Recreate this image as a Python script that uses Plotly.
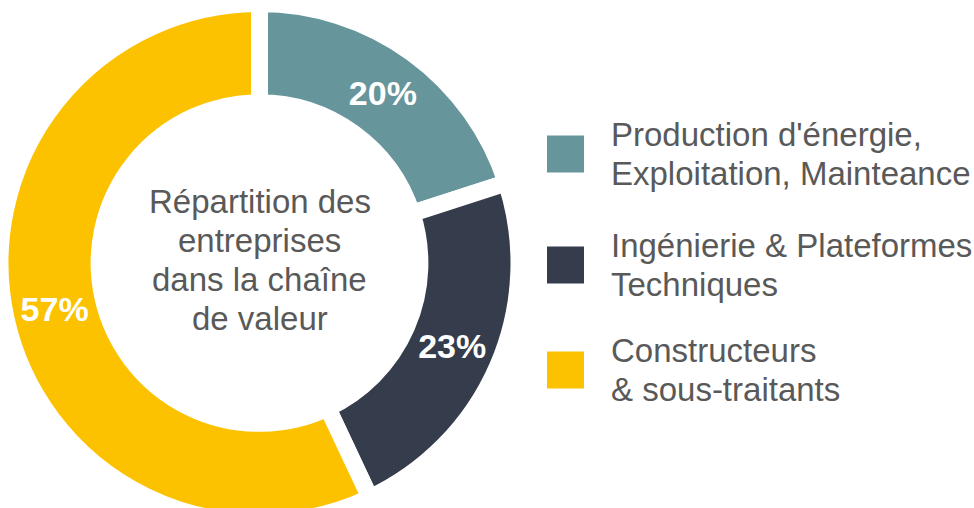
import plotly.graph_objects as go

# ---- data ----
categories = [
    "Production d'énergie,<br>Exploitation, Mainteance",
    "Ingénierie & Plateformes<br>Techniques",
    "Constructeurs<br>& sous-traitants",
]
shares = [20, 23, 57]
colors = ["#66959B", "#353C4C", "#FCC200"]
center_title = "Répartition des<br>entreprises<br>dans la chaîne<br>de valeur"

# ---- layout constants ----
W, H = 974, 526
FONT = "Liberation Sans, Arial, sans-serif"
TEXT_GRAY = "#595959"
TEXT_SIZE = 33
LINE_GAP = 38.8
legend_centers = [154, 265, 370]


def px(x):
    return x / W


def py(y):
    return 1 - y / H


fig = go.Figure()
fig.add_trace(
    go.Pie(
        labels=[c.replace("<br>", " ") for c in categories],
        values=shares,
        marker=dict(colors=colors, line=dict(color="white", width=17)),
        hole=0.618,
        sort=False,
        direction="clockwise",
        rotation=0,
        textinfo="percent",
        textposition="inside",
        insidetextorientation="horizontal",
        textfont=dict(family=FONT, size=34, color="white", weight="bold"),
        domain=dict(x=[0, 519 / W], y=[0, 1]),
        showlegend=False,
        hoverinfo="label+percent",
    )
)


def add_lines(lines, x, cy, xanchor, align):
    n = len(lines)
    for k, line in enumerate(lines):
        fig.add_annotation(
            x=px(x), y=py(cy + (k - (n - 1) / 2) * LINE_GAP),
            xref="paper", yref="paper",
            text=line, showarrow=False, align=align,
            xanchor=xanchor, yanchor="middle",
            font=dict(family=FONT, size=TEXT_SIZE, color=TEXT_GRAY),
        )


# centre title
add_lines(center_title.split("<br>"), 259.5, 260, "center", "center")

# custom legend
sq = 37
for lab, col, cy in zip(categories, colors, legend_centers):
    fig.add_shape(
        type="rect", xref="paper", yref="paper",
        x0=px(547), x1=px(547 + sq), y0=py(cy - sq / 2), y1=py(cy + sq / 2),
        fillcolor=col, line=dict(width=0),
    )
    add_lines(lab.split("<br>"), 609, cy, "left", "left")

fig.update_layout(
    width=W, height=H,
    margin=dict(l=0, r=0, t=0, b=0),
    paper_bgcolor="white", plot_bgcolor="white",
    showlegend=False,
)

fig.write_html(
    "out.html",
    config={"displayModeBar": False},
    post_script="document.body.style.margin='0';",
)
